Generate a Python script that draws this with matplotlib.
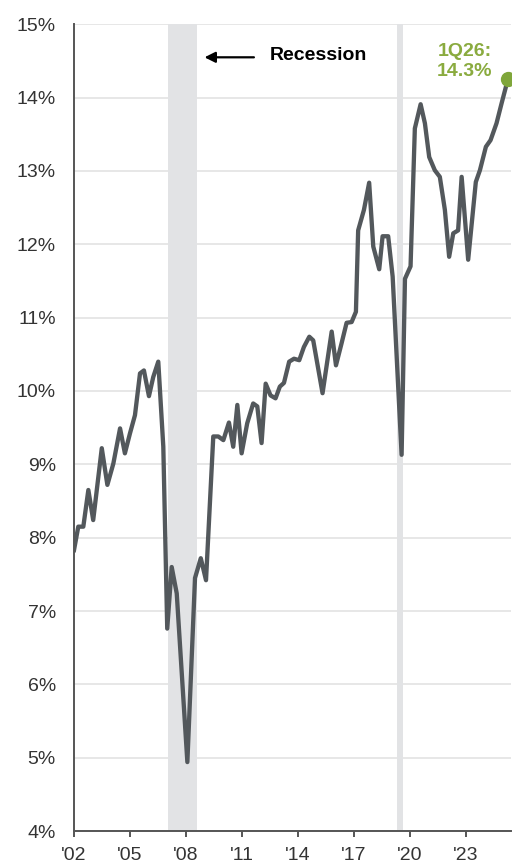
import matplotlib
matplotlib.use("Agg")
import matplotlib.pyplot as plt

plt.rcParams['font.family'] = ['Liberation Sans', 'DejaVu Sans']

# fecha (año decimal) y valor (%)
anios = [2002.00, 2002.23, 2002.50, 2002.77, 2003.03, 2003.49, 2003.79, 2004.11,
         2004.47, 2004.73, 2005.00, 2005.27, 2005.54, 2005.75, 2006.02, 2006.25,
         2006.52, 2006.79, 2007.00, 2007.24, 2007.51, 2008.08, 2008.49, 2008.80,
         2009.08, 2009.47, 2009.74, 2010.01, 2010.31, 2010.54, 2010.76, 2010.99,
         2011.29, 2011.61, 2011.83, 2012.06, 2012.28, 2012.54, 2012.81, 2013.04,
         2013.26, 2013.54, 2013.80, 2014.08, 2014.33, 2014.62, 2014.83, 2015.33,
         2015.82, 2016.05, 2016.35, 2016.62, 2016.89, 2017.12, 2017.24, 2017.55,
         2017.83, 2018.05, 2018.37, 2018.55, 2018.85, 2019.09, 2019.57, 2019.75,
         2020.05, 2020.28, 2020.59, 2020.82, 2021.05, 2021.35, 2021.62, 2021.89,
         2022.12, 2022.34, 2022.60, 2022.79, 2023.14, 2023.55, 2023.77, 2024.09,
         2024.34, 2024.66, 2024.93, 2025.28]
valores = [7.83, 8.15, 8.15, 8.65, 8.24, 9.22, 8.72, 9.01,
           9.49, 9.15, 9.42, 9.67, 10.24, 10.28, 9.93, 10.19,
           10.40, 9.24, 6.76, 7.60, 7.24, 4.94, 7.45, 7.72,
           7.42, 9.38, 9.38, 9.33, 9.57, 9.24, 9.81, 9.15,
           9.56, 9.83, 9.79, 9.29, 10.10, 9.94, 9.90, 10.06,
           10.11, 10.40, 10.44, 10.42, 10.60, 10.74, 10.69, 9.97,
           10.81, 10.35, 10.65, 10.93, 10.94, 11.08, 12.19, 12.47,
           12.84, 11.97, 11.66, 12.11, 12.11, 11.56, 9.13, 11.53,
           11.70, 13.58, 13.91, 13.65, 13.19, 13.01, 12.92, 12.47,
           11.83, 12.15, 12.19, 12.92, 11.79, 12.85, 13.01, 13.33,
           13.42, 13.65, 13.92, 14.26]

recesiones = [(2007.06, 2008.58), (2019.30, 2019.62)]
ticks_anios = [2002, 2005, 2008, 2011, 2014, 2017, 2020, 2023]
ticks_etiquetas = ["'02", "'05", "'08", "'11", "'14", "'17", "'20", "'23"]
ultimo_texto = "1Q26:\n14.3%"

gris_linea = '#53585c'
verde = '#7fa63a'
texto = '#333333'

fig = plt.figure(figsize=(5.16, 8.68), dpi=100)
ax = fig.add_axes([0.1434, 0.0426, 0.9897 - 0.1434, 0.972 - 0.0426])

for ini, fin in recesiones:
    ax.axvspan(ini, fin, color='#e2e3e5', lw=0, zorder=1)

ax.plot(anios, valores, color=gris_linea, lw=3.1, solid_joinstyle='round', zorder=3)
ax.plot(anios[-1], valores[-1], 'o', color=verde, ms=10, zorder=4)

ax.text(2022.95, 14.49, ultimo_texto, color='#8aab3f', fontsize=14,
        fontweight='bold', ha='center', va='center', zorder=5)

ax.annotate('', xy=(2009.0, 14.55), xytext=(2011.65, 14.55),
            arrowprops=dict(arrowstyle='-|>', color='black', lw=1.6,
                            mutation_scale=16, shrinkA=0, shrinkB=0))
ax.text(2012.5, 14.58, 'Recession', fontsize=14, fontweight='bold',
        color='black', ha='left', va='center')

ax.set_xlim(2002, 2025.42)
ax.set_ylim(4, 15)
ax.set_yticks(range(4, 16))
ax.set_yticklabels([f'{v}%' for v in range(4, 16)])
ax.set_xticks(ticks_anios)
ax.set_xticklabels(ticks_etiquetas)

ax.grid(axis='y', color='#e3e3e3', lw=1.2, zorder=0)
ax.set_axisbelow(True)

for lado in ['top', 'right']:
    ax.spines[lado].set_visible(False)
for lado in ['left', 'bottom']:
    ax.spines[lado].set_color('#555555')
    ax.spines[lado].set_linewidth(1.4)
    ax.spines[lado].set_zorder(6)

ax.tick_params(axis='y', length=0, pad=13, labelsize=14, labelcolor=texto)
ax.tick_params(axis='x', length=4.5, width=1.4, color='#555555', pad=7,
               labelsize=14, labelcolor=texto)

fig.savefig('out.png', dpi=100)
